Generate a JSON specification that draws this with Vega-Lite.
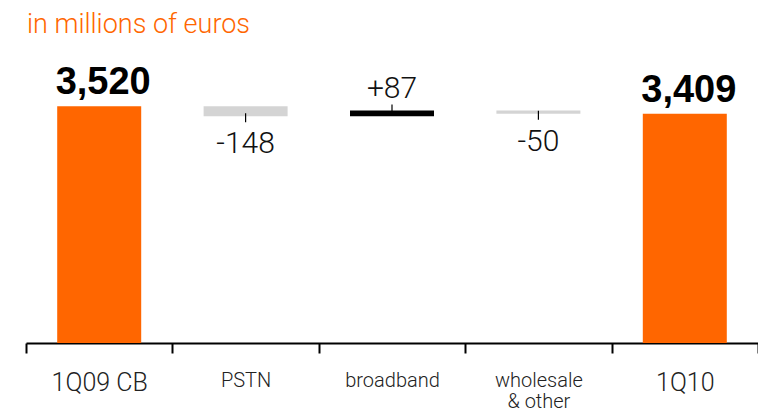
{
  "$schema": "https://vega.github.io/schema/vega-lite/v6.json",
  "autosize": {"type": "none"},
  "padding": {"left": 26, "top": 74, "right": 0, "bottom": 73},
  "width": 732,
  "height": 269,
  "background": "white",
  "title": {
    "text": "in millions of euros",
    "anchor": "start",
    "frame": "group",
    "color": "#ff6600",
    "font": "Roboto",
    "fontWeight": 300,
    "fontSize": 27,
    "baseline": "alphabetic",
    "offset": 4,
    "dx": 1
  },
  "config": {"view": {"stroke": null}},
  "data": {
    "values": [
      {"cat": "1Q09 CB", "start": 0, "end": 3520, "kind": "total", "label": "3,520"},
      {"cat": "PSTN", "start": 3520, "end": 3372, "kind": "neg", "label": "-148"},
      {"cat": "broadband", "start": 3372, "end": 3459, "kind": "pos", "label": "+87"},
      {"cat": "wholesale & other", "start": 3459, "end": 3409, "kind": "neg", "label": "-50"},
      {"cat": "1Q10", "start": 0, "end": 3409, "kind": "total", "label": "3,409"}
    ]
  },
  "encoding": {
    "x": {
      "field": "cat",
      "type": "nominal",
      "sort": null,
      "scale": {"paddingInner": 0, "paddingOuter": 0},
      "axis": {
        "title": null,
        "labelAngle": 0,
        "domainColor": "#000000",
        "domainWidth": 2,
        "tickColor": "#000000",
        "tickWidth": 2,
        "tickSize": 10,
        "tickBand": "extent",
        "labelFont": "Roboto",
        "labelFontWeight": 300,
        "labelColor": "#222222",
        "labelFontSize": {"condition": {"test": "datum.value == '1Q09 CB' || datum.value == '1Q10'", "value": 25}, "value": 20},
        "labelBaseline": "top",
        "labelPadding": 17,
        "labelLineHeight": 21,
        "labelExpr": "datum.value == 'wholesale & other' ? ['wholesale', '& other'] : datum.value"
      }
    }
  },
  "layer": [
    {
      "mark": {"type": "bar", "size": 84},
      "encoding": {
        "y": {"field": "start", "type": "quantitative", "scale": {"domain": [0, 4000], "nice": false}, "axis": null},
        "y2": {"field": "end"},
        "color": {
          "field": "kind",
          "type": "nominal",
          "scale": {"domain": ["total", "neg", "pos"], "range": ["#ff6600", "#d4d4d4", "#000000"]},
          "legend": null
        }
      }
    },
    {
      "transform": [{"filter": "datum.kind == 'neg'"}],
      "mark": {"type": "rule", "color": "#000000", "strokeWidth": 1.2, "yOffset": -3, "y2Offset": 6},
      "encoding": {
        "y": {"field": "end", "type": "quantitative"},
        "y2": {"field": "end"}
      }
    },
    {
      "transform": [{"filter": "datum.kind == 'pos'"}],
      "mark": {"type": "rule", "color": "#000000", "strokeWidth": 1.2, "yOffset": 1, "y2Offset": -6},
      "encoding": {
        "y": {"field": "end", "type": "quantitative"},
        "y2": {"field": "end"}
      }
    },
    {
      "transform": [{"filter": "datum.kind == 'total'"}],
      "mark": {"type": "text", "font": "Liberation Sans", "fontWeight": "bold", "fontSize": 38, "baseline": "alphabetic", "dy": -12, "dx": 4, "color": "#000000"},
      "encoding": {
        "y": {"field": "end", "type": "quantitative"},
        "text": {"field": "label"}
      }
    },
    {
      "transform": [{"filter": "datum.kind == 'pos'"}],
      "mark": {"type": "text", "font": "Roboto", "fontWeight": 300, "fontSize": 30, "baseline": "alphabetic", "dy": -12, "color": "#111111"},
      "encoding": {
        "y": {"field": "end", "type": "quantitative"},
        "text": {"field": "label"}
      }
    },
    {
      "transform": [{"filter": "datum.kind == 'neg'"}],
      "mark": {"type": "text", "font": "Roboto", "fontWeight": 300, "fontSize": 30, "baseline": "alphabetic", "dy": 37, "color": "#111111"},
      "encoding": {
        "y": {"field": "end", "type": "quantitative"},
        "text": {"field": "label"}
      }
    }
  ]
}
